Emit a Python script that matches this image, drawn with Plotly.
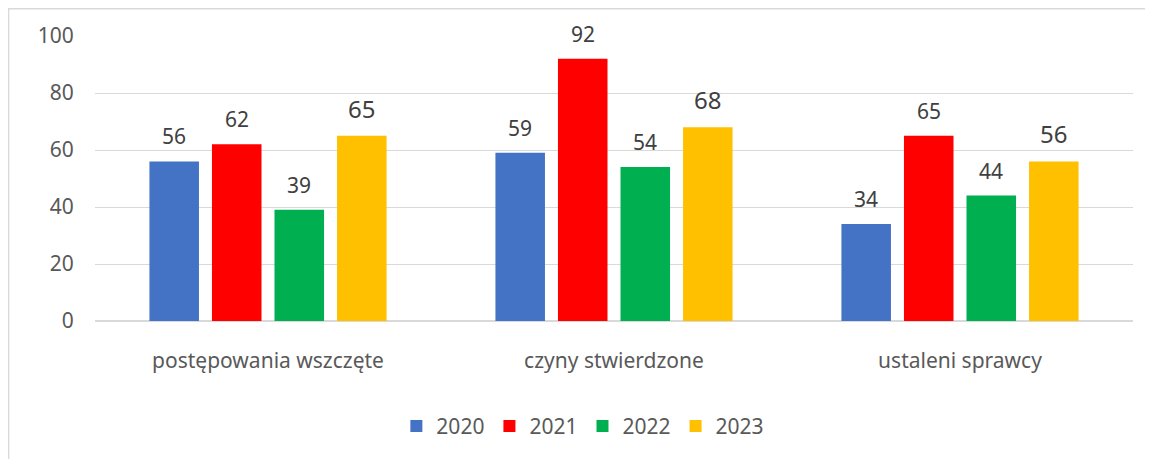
import plotly.graph_objects as go

categories = ["postępowania wszczęte", "czyny stwierdzone", "ustaleni sprawcy"]
years = ["2020", "2021", "2022", "2023"]
v2020 = [56, 59, 34]
v2021 = [62, 92, 65]
v2022 = [39, 54, 44]
v2023 = [65, 68, 56]
y_ticks = [0, 20, 40, 60, 80, 100]

series = [v2020, v2021, v2022, v2023]
colors = ["#4472C4", "#FF0000", "#00B050", "#FFC000"]
label_sizes = [21, 21, 21, 24]

fig = go.Figure()
for name, vals, col in zip(years, series, colors):
    fig.add_trace(go.Bar(x=categories, y=vals, name=name, marker_color=col,
                         marker_line_width=0))

# data labels above bars, offset to each bar slot within the group
gap = 0.277
slot = (1 - gap) / len(series)
annotations = []
for j, vals in enumerate(series):
    off = (j - (len(series) - 1) / 2) * slot
    for i, v in enumerate(vals):
        annotations.append(dict(x=i + off, y=v, xref="x", yref="y", text=str(v),
                                showarrow=False, yanchor="bottom", yshift=9,
                                font=dict(family="Noto Sans", size=label_sizes[j],
                                          color="#404040")))

# page body has an 8px margin, so the figure is a bit smaller than the window
fig.update_layout(
    width=1145, height=451,
    margin=dict(l=87, r=20, t=28, b=129),
    paper_bgcolor="white", plot_bgcolor="white",
    barmode="group", bargap=gap, bargroupgap=0.208,
    font=dict(family="Noto Sans", color="#595959"),
    annotations=annotations,
    showlegend=True,
    legend=dict(orientation="h", x=0.47, xanchor="center", y=-0.37, yanchor="middle",
                font=dict(size=21, color="#595959"), itemwidth=30,
                traceorder="normal"),
    shapes=[dict(type="rect", xref="paper", yref="paper", x0=-0.0833, x1=1.05,
                 y0=-0.6, y1=1.096, line=dict(color="#d9d9d9", width=1.5))],
)
fig.update_yaxes(range=[0, 100], tickvals=y_ticks, showgrid=True, gridcolor="#d9d9d9",
                 zeroline=True, zerolinecolor="#d9d9d9", showline=False,
                 tickfont=dict(size=21, color="#595959"), ticks="outside",
                 ticklen=16, tickcolor="rgba(0,0,0,0)")
fig.update_xaxes(showgrid=False, showline=False, tickfont=dict(size=21, color="#595959"),
                 ticks="outside", ticklen=21, tickcolor="rgba(0,0,0,0)")

fig.write_html("out.html")
